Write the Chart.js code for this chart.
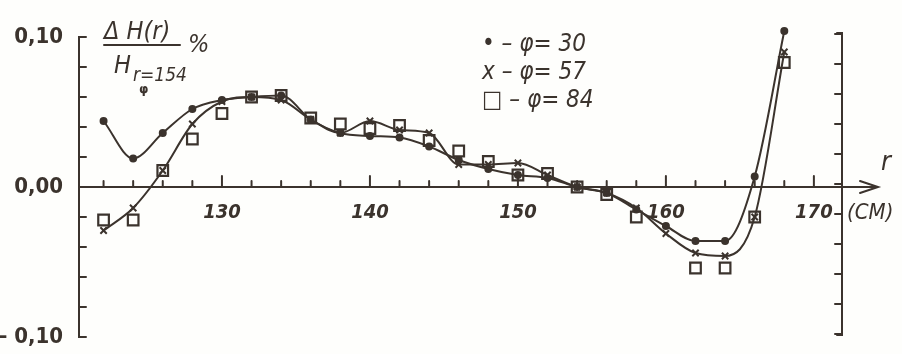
<!DOCTYPE html>
<html>
<head>
<meta charset="utf-8">
<script src="https://cdn.jsdelivr.net/npm/chart.js@4"></script>
<style>
  html, body { margin: 0; padding: 0; background: #fefefc; }
  #wrap { width: 902px; height: 354px; position: relative; }
</style>
</head>
<body>
<div id="wrap"><canvas id="myChart"></canvas></div>
<script>
// data (r in cm, value in %)
const radii = [122, 124, 126, 128, 130, 132, 134, 136, 138, 140, 142, 144, 146, 148, 150, 152, 154, 156, 158, 160, 162, 164, 166, 168];
const phi30 = [0.044, 0.019, 0.036, 0.052, 0.058, 0.060, 0.061, 0.045, 0.036, 0.034, 0.033, 0.027, 0.018, 0.012, 0.008, 0.006, 0.000, -0.004, -0.015, -0.026, -0.036, -0.036, 0.007, 0.104];
const phi57 = [-0.029, -0.014, 0.011, 0.042, 0.057, 0.060, 0.058, 0.045, 0.036, 0.044, 0.038, 0.036, 0.015, 0.015, 0.016, 0.008, 0.000, -0.004, -0.014, -0.031, -0.044, -0.046, -0.020, 0.090];
const phi84 = [-0.022, -0.022, 0.011, 0.032, 0.049, 0.060, 0.061, 0.046, 0.042, 0.039, 0.041, 0.031, 0.024, 0.017, 0.008, 0.009, 0.000, -0.005, -0.020, null, -0.054, -0.054, -0.020, 0.083];
const xTicks = [122, 124, 126, 128, 130, 132, 134, 136, 138, 140, 142, 144, 146, 148, 150, 152, 154, 156, 158, 160, 162, 164, 166, 168, 170];
const yTicks = [-0.10, -0.08, -0.06, -0.04, -0.02, 0.00, 0.02, 0.04, 0.06, 0.08, 0.10];
const legendRows = ['\u2022 \u2013 \u03c6= 30', 'x \u2013 \u03c6= 57', '\u25a1 \u2013 \u03c6= 84'];

const ink = '#3b332d';

const pts = (vals) => radii.map((r, i) => ({ x: r, y: vals[i] }));

// hand-drawn style axes, arrow and inscriptions
const decor = {
  id: 'decor',
  afterDraw(chart) {
    const ctx = chart.ctx;
    const xs = chart.scales.x, ys = chart.scales.y;
    const a = chart.chartArea;
    const y0 = ys.getPixelForValue(0);
    const yTop = ys.getPixelForValue(0.1), yBot = ys.getPixelForValue(-0.1);
    ctx.save();
    ctx.strokeStyle = ink;
    ctx.fillStyle = ink;
    ctx.lineWidth = 2;
    ctx.lineCap = 'round';
    // left axis
    ctx.beginPath();
    ctx.moveTo(a.left + 5, yTop); ctx.lineTo(a.left, yTop);
    ctx.lineTo(a.left, yBot); ctx.lineTo(a.left + 5, yBot);
    // right axis
    ctx.moveTo(a.right - 5, yTop - 4); ctx.lineTo(a.right, yTop - 4);
    ctx.lineTo(a.right, yBot - 2); ctx.lineTo(a.right - 5, yBot - 2);
    yTicks.forEach(v => {
      const py = ys.getPixelForValue(v);
      ctx.moveTo(a.left, py); ctx.lineTo(a.left + 7, py);
      ctx.moveTo(a.right, py - 3); ctx.lineTo(a.right - 7, py - 3);
    });
    // r axis with arrow
    ctx.moveTo(a.left, y0); ctx.lineTo(878, y0);
    ctx.moveTo(860, y0 - 6); ctx.lineTo(878, y0); ctx.lineTo(860, y0 + 6);
    xTicks.forEach(v => {
      const px = xs.getPixelForValue(v);
      ctx.moveTo(px, y0); ctx.lineTo(px, y0 - (v % 10 === 0 ? 11 : 6));
    });
    ctx.stroke();

    // y label fraction
    ctx.textBaseline = 'alphabetic';
    ctx.textAlign = 'left';
    ctx.font = 'oblique 25px "DejaVu Sans Condensed"';
    ctx.fillText('\u0394 H(r)', 104, 39);
    ctx.fillText('%', 188, 52);
    ctx.beginPath();
    ctx.moveTo(104, 45); ctx.lineTo(180, 45);
    ctx.stroke();
    ctx.fillText('H', 114, 73);
    ctx.font = 'oblique 19px "DejaVu Sans Condensed"';
    ctx.fillText('r=154', 133, 81);
    ctx.font = 'bold 12px "DejaVu Sans"';
    ctx.fillText('\u03c6', 139, 93);

    // legend
    ctx.font = 'oblique 24px "DejaVu Sans Condensed"';
    legendRows.forEach((t, i) => ctx.fillText(t, 482, 51 + i * 28));

    // axis name
    ctx.font = 'oblique 27px "DejaVu Sans Condensed"';
    ctx.fillText('r', 881, 170);
    ctx.font = 'oblique 22px "DejaVu Sans Condensed"';
    ctx.fillText('(CM)', 847, 219);
    ctx.restore();
  }
};

const config = {
  type: 'line',
  data: {
    datasets: [{
      label: '\u03c6 = 30',
      data: pts(phi30),
      borderColor: ink,
      backgroundColor: ink,
      borderWidth: 2,
      pointStyle: 'circle',
      pointRadius: 3,
      cubicInterpolationMode: 'monotone',
      clip: false
    }, {
      label: '\u03c6 = 57',
      data: pts(phi57),
      borderColor: ink,
      backgroundColor: ink,
      borderWidth: 2,
      pointStyle: 'crossRot',
      pointRadius: 4.5,
      pointBorderWidth: 2,
      cubicInterpolationMode: 'monotone',
      spanGaps: true,
      clip: false
    }, {
      label: '\u03c6 = 84',
      data: pts(phi84),
      showLine: false,
      borderColor: ink,
      backgroundColor: 'rgba(0,0,0,0)',
      pointStyle: 'rect',
      pointRadius: 7.5,
      pointBorderWidth: 2.2,
      clip: false
    }]
  },
  options: {
    responsive: true,
    maintainAspectRatio: false,
    animation: false,
    clip: false,
    layout: { padding: { left: 0, top: 28, right: 60, bottom: 17 } },
    plugins: {
      legend: { display: false },
      tooltip: { enabled: false }
    },
    scales: {
      x: {
        type: 'linear',
        position: { y: 0 },
        min: 120.34,
        max: 171.9,
        afterFit: (s) => { s.height = 0; },
        afterBuildTicks: (s) => { s.ticks = xTicks.filter(v => v % 10 === 0).map(v => ({ value: v })); },
        grid: { display: false, drawTicks: false },
        border: { display: false },
        ticks: {
          padding: 14,
          color: ink,
          maxRotation: 0,
          autoSkip: false,
          font: { family: 'DejaVu Sans Condensed', size: 20, style: 'oblique', weight: 'bold' },
          callback: (v) => String(v)
        }
      },
      y: {
        min: -0.1,
        max: 0.106,
        afterFit: (s) => { s.width = 79; },
        afterBuildTicks: (s) => { s.ticks = yTicks.map(v => ({ value: v })); },
        grid: { display: false, drawTicks: true, tickLength: 14 },
        border: { display: false },
        ticks: {
          padding: 2,
          color: ink,
          autoSkip: false,
          font: { family: 'DejaVu Sans Condensed', size: 22, weight: 'bold' },
          callback: (v) => {
            const k = Math.round(v * 100);
            if (k === 10) return '0,10';
            if (k === 0) return '0,00';
            if (k === -10) return '\u2013 0,10';
            return '';
          }
        }
      }
    }
  },
  plugins: [decor]
};

const myChart = new Chart(document.getElementById('myChart'), config);
</script>
</body>
</html>
